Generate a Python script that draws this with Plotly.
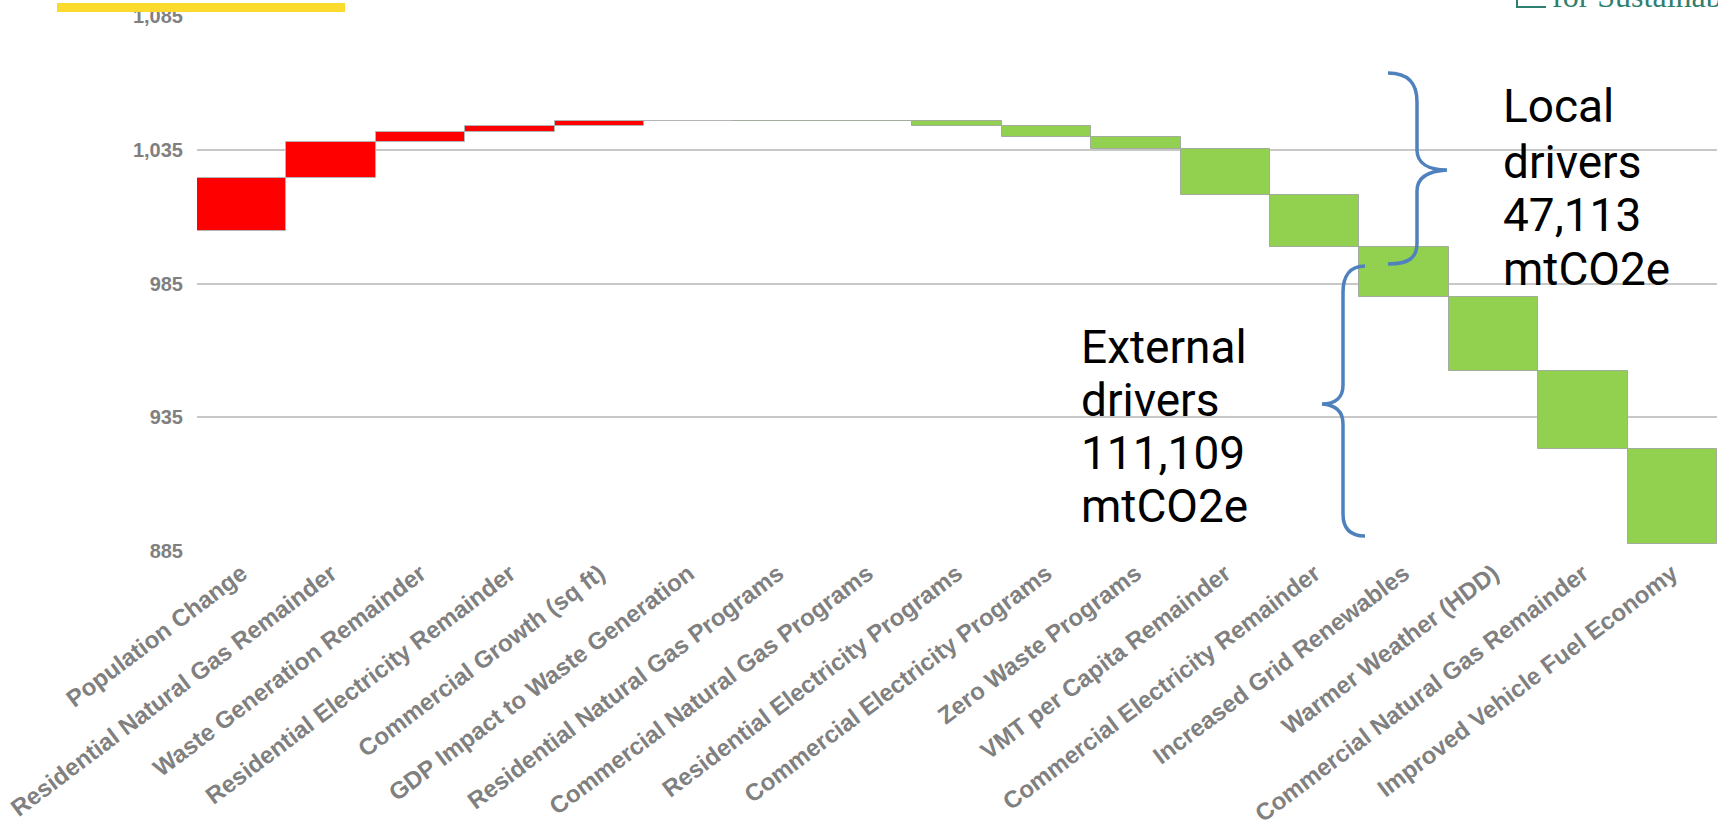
import plotly.graph_objects as go

# Emissions drivers waterfall (thousand mtCO2e)
categories = [
    "Population Change",
    "Residential Natural Gas Remainder",
    "Waste Generation Remainder",
    "Residential Electricity Remainder",
    "Commercial Growth (sq ft)",
    "GDP Impact to Waste Generation",
    "Residential Natural Gas Programs",
    "Commercial Natural Gas Programs",
    "Residential Electricity Programs",
    "Commercial Electricity Programs",
    "Zero Waste Programs",
    "VMT per Capita Remainder",
    "Commercial Electricity Remainder",
    "Increased Grid Renewables",
    "Warmer Weather (HDD)",
    "Commercial Natural Gas Remainder",
    "Improved Vehicle Fuel Economy",
]
start_level = 1004.8
changes = [19.8, 13.4, 3.5, 2.3, 1.9, 0.2,
           -0.05, -0.05,
           -1.8, -4.2, -4.6, -17.2, -19.2,
           -18.8, -27.7, -29.0, -35.5]
y_ticks = [885, 935, 985, 1035, 1085]

local_lines = ["Local", "drivers", "47,113", "mtCO2e"]
external_lines = ["External", "drivers", "111,109", "mtCO2e"]

W, H = 1718, 832
L, R, T, B = 197, 1, 16, 281
PW, PH = W - L - R, H - T - B


def px(x):
    return (x - L) / PW


def py(y):
    return (H - B - y) / PH


fig = go.Figure(go.Waterfall(
    x=categories,
    y=changes,
    base=start_level,
    measure=["relative"] * len(changes),
    increasing=dict(marker=dict(color="#FF0000", line=dict(color="#b4b4b4", width=1))),
    decreasing=dict(marker=dict(color="#92D050", line=dict(color="#a2ad9c", width=1))),
    connector=dict(visible=False),
    hoverinfo="x+y",
))

shapes = [
    # yellow accent bar at top-left
    dict(type="rect", xref="paper", yref="paper",
         x0=px(57), x1=px(345), y0=py(12), y1=py(3),
         fillcolor="#FDDA2E", line=dict(width=0), layer="above"),
    # small logo frame at top-right
    dict(type="path", xref="paper", yref="paper",
         path=f"M {px(1517)},{py(-6)} L {px(1517)},{py(7)} L {px(1546)},{py(7)}",
         line=dict(color="#2f7f6f", width=2)),
]


def path_from_pixels(cmds):
    out = []
    for c in cmds:
        if isinstance(c, str):
            out.append(c)
        else:
            out.append(f"{px(c[0]):.5f},{py(c[1]):.5f}")
    return " ".join(out)


brace_color = "#4F81BD"
local_brace = path_from_pixels([
    "M", (1388, 73),
    "C", (1410, 73), (1417, 85), (1417, 102),
    "L", (1417, 150),
    "C", (1417, 163), (1428, 170), (1447, 170),
    "C", (1428, 171), (1417, 178), (1417, 191),
    "L", (1417, 243),
    "C", (1417, 257), (1410, 264), (1388, 264),
])
external_brace = path_from_pixels([
    "M", (1365, 266),
    "C", (1350, 266), (1343, 276), (1343, 292),
    "L", (1343, 385),
    "C", (1343, 397), (1336, 404), (1322, 404),
    "C", (1336, 405), (1343, 412), (1343, 424),
    "L", (1343, 514),
    "C", (1343, 528), (1350, 536), (1365, 536),
])
for p in (local_brace, external_brace):
    shapes.append(dict(type="path", xref="paper", yref="paper", path=p,
                       line=dict(color=brace_color, width=3.5)))

annotations = []
for txt, cy in zip(local_lines, [106, 161.5, 215, 268.5]):
    annotations.append(dict(text=txt, xref="paper", yref="paper",
                            x=px(1501), y=py(cy), xanchor="left", yanchor="middle",
                            showarrow=False,
                            font=dict(family="Roboto", size=46, color="#000000")))
for txt, cy in zip(external_lines, [346.5, 400, 453, 506]):
    annotations.append(dict(text=txt, xref="paper", yref="paper",
                            x=px(1079), y=py(cy), xanchor="left", yanchor="middle",
                            showarrow=False,
                            font=dict(family="Roboto", size=46, color="#000000")))
# organisation name running off the top edge
annotations.append(dict(text="for Sustainability", xref="paper", yref="paper",
                        x=px(1550), y=py(16), xanchor="left", yanchor="bottom",
                        showarrow=False,
                        font=dict(family="Liberation Serif", size=32, color="#2f7f6f")))

fig.update_layout(
    width=W, height=H,
    margin=dict(l=L, r=R, t=T, b=B, autoexpand=False),
    paper_bgcolor="white", plot_bgcolor="white",
    showlegend=False,
    waterfallgap=0,
    shapes=shapes,
    annotations=annotations,
    xaxis=dict(
        range=[-0.5, len(categories) - 0.5],
        showgrid=False, zeroline=False, showline=False, ticks="",
        tickangle=-37,
        ticklabelstandoff=3,
        tickfont=dict(family="Liberation Sans", size=24, color="#808080", weight="bold"),
        automargin=False,
    ),
    yaxis=dict(
        range=[885, 1085],
        tickvals=y_ticks,
        tickformat=",",
        showgrid=True, gridcolor="#c8c8c8", gridwidth=2,
        zeroline=False, showline=False, ticks="",
        ticklabelstandoff=13,
        tickfont=dict(family="Liberation Sans", size=20, color="#808080", weight="bold"),
        automargin=False,
    ),
)

fig.write_html("out.html")
